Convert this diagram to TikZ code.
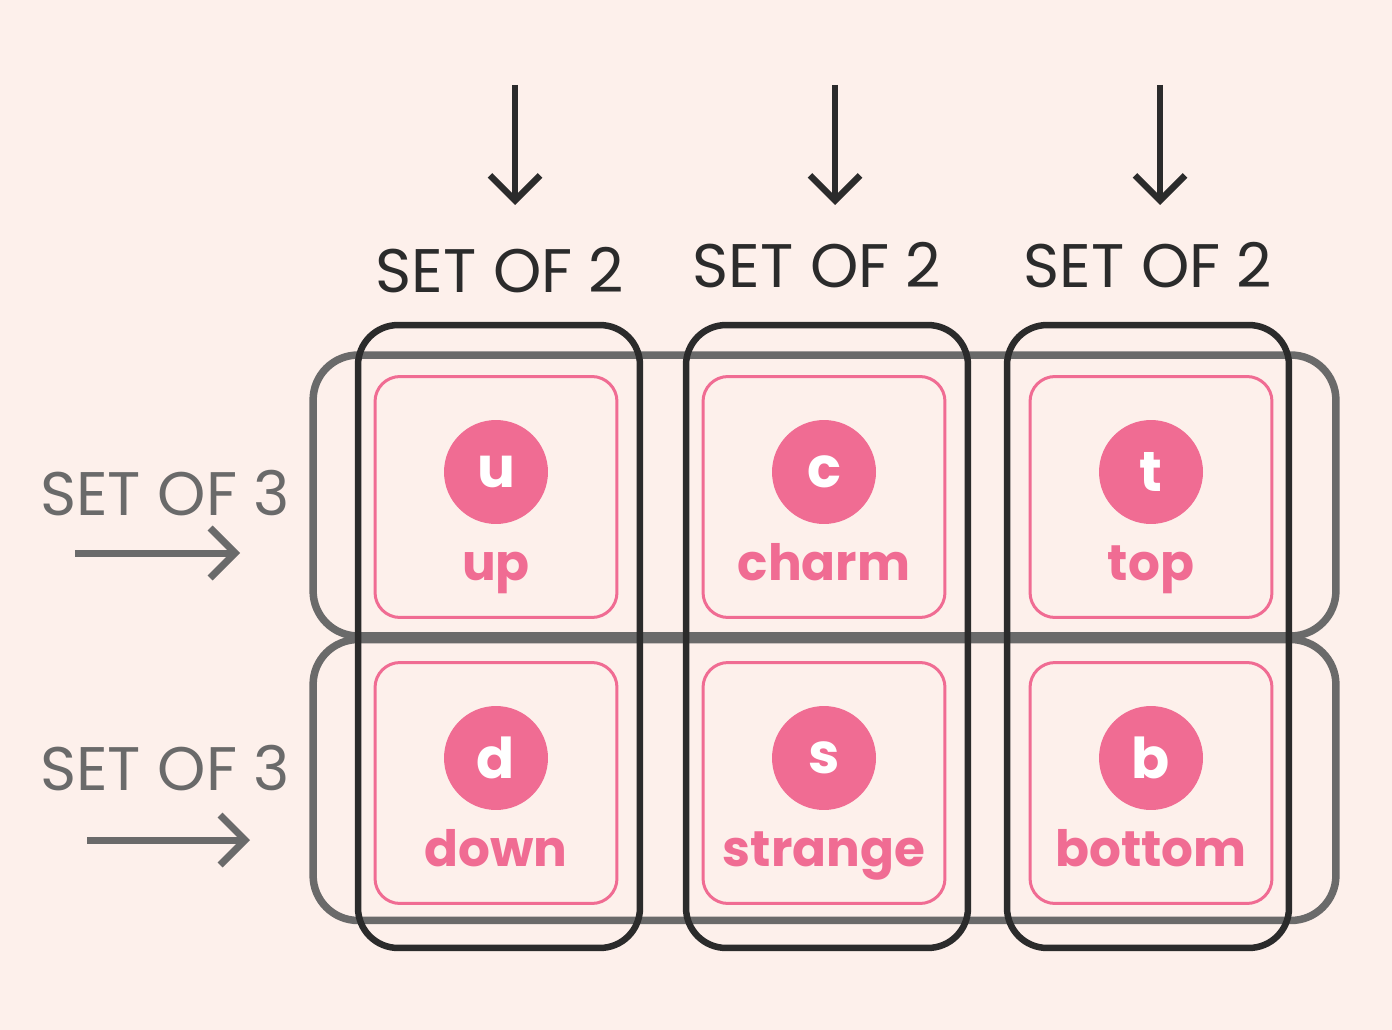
\documentclass[tikz,border=0pt]{standalone}
\usepackage{fontspec}
\setmainfont{Poppins}
\usetikzlibrary{arrows.meta,positioning}
\definecolor{bgpink}{HTML}{FDF0EB}
\definecolor{quark}{HTML}{F06C93}
\definecolor{darkline}{HTML}{2B2B2B}
\definecolor{grayline}{HTML}{6A6A6A}
\begin{document}
\begin{tikzpicture}[x=0.02cm, y=-0.02cm, >={Straight Barb[length=5mm,width=10mm]}]
	\tikzset{colbox/.style = {draw=darkline, line width=1.3mm, rounded corners=0.8cm, minimum width=5.64cm, minimum height=12.46cm}}
	\tikzset{rowbox/.style = {draw=grayline, line width=1.5mm, rounded corners=0.9cm, minimum width=20.46cm, minimum height=5.62cm}}
	\tikzset{cell/.style = {draw=quark, line width=0.6mm, rounded corners=0.5cm, minimum width=4.84cm, minimum height=4.82cm}}
	\tikzset{dot/.style = {circle, fill=quark, minimum size=2.08cm, inner sep=0pt, text=white, font=\fontsize{32}{32}\selectfont\bfseries}}
	\tikzset{qname/.style = {anchor=base, text=quark, font=\fontsize{28.5}{28.5}\selectfont\bfseries}}
	\tikzset{setlabel/.style = {font=\fontsize{35}{35}\selectfont}}

	\fill[bgpink] (0,0) rectangle (1392,1030);

	% groups
	\node[rowbox] (row1) at (824.5,495.5) {};
	\node[rowbox] (row2) at (824.5,780) {};
	\node[colbox] (col1) at (499,636.5) {};
	\node[colbox] (col2) at (827,636.5) {};
	\node[colbox] (col3) at (1148,636.5) {};

	% quarks
	\foreach \x/\y/\n/\s/\name in {496/497/u/u/up, 824/497/c/c/charm, 1151/497/t/t/top,
	                               496/783/d/d/down, 824/783/s/s/strange, 1151/783/b/b/bottom}{
		\node[cell] (cell\n) at (\x,\y) {};
		\node[dot] (dot\n) at (\x,\y-25) {\s};
		\node[qname] (name\n) at (\x,\y+83) {\name};
	}

	% labels
	\node[setlabel, text=darkline] (lab1) at (500,270) {SET OF 2};
	\node[setlabel, text=darkline] (lab2) at (817,265) {SET OF 2};
	\node[setlabel, text=darkline] (lab3) at (1148,265) {SET OF 2};
	\node[setlabel, text=grayline] (labr1) at (165,493) {SET OF 3};
	\node[setlabel, text=grayline] (labr2) at (165,768) {SET OF 3};

	% arrows
	\coordinate (a1) at (515,85);  \coordinate (b1) at (515,205);
	\coordinate (a2) at (835,85);  \coordinate (b2) at (835,205);
	\coordinate (a3) at (1160,85); \coordinate (b3) at (1160,205);
	\coordinate (a4) at (75,553);  \coordinate (b4) at (240,553);
	\coordinate (a5) at (87,840);  \coordinate (b5) at (250,840);
	\foreach \i in {1,2,3}
		\draw[->, darkline, line width=1.3mm] (a\i) -- (b\i);
	\foreach \i in {4,5}
		\draw[->, grayline, line width=1.4mm] (a\i) -- (b\i);
\end{tikzpicture}
\end{document}
